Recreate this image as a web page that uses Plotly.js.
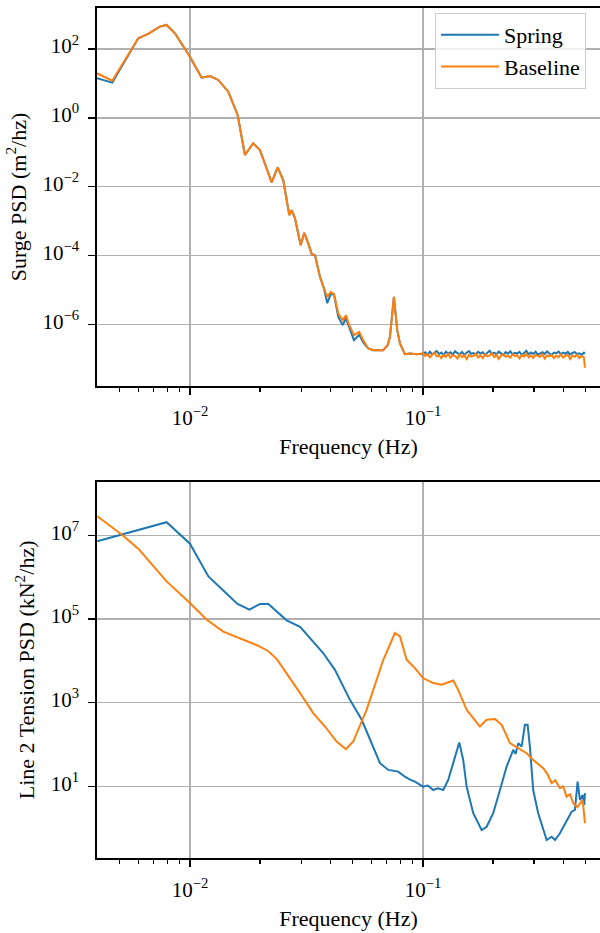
<!DOCTYPE html>
<html><head><meta charset="utf-8">
<script src="https://cdn.plot.ly/plotly-3.0.1.min.js"></script>
<style>html,body{margin:0;padding:0;background:#fff}#chart{width:600px;height:933px}</style>
</head><body><div id="chart"></div>
<script>
// ---- Surge PSD (top panel) ----
const surgeFreq = [0.00399,0.00464,0.0060,0.00662,0.00743,0.00794,0.00862,0.0100,0.01122,0.01219,
  0.01323,0.0146,0.01602,0.01722,0.01869,0.01997,0.02242,0.02379,0.02514,0.02669,
  0.02733,0.02823,0.02987,0.03095,0.0322,0.0333,0.0344,0.03614,0.0376,0.03885,
  0.04018,0.0415,0.04331,0.04523,0.04672,0.04827,0.05057,0.05329,0.05544,0.05824,
  0.06119,0.06755,0.07055,0.07217,0.07507,0.07757,0.07967,0.08369,0.08794,0.09397];
const surgeBaseline = [19.7,12.0,205,273,445,499,286,59.7,14.7,16.4,
  12.6,5.74,1.21,0.083,0.182,0.116,0.0133,0.0364,0.0156,0.00149,
  0.00209,0.0012,2.0e-4,4.57e-4,2.25e-4,1.10e-4,1.03e-4,2.41e-5,1.11e-5,6.3e-6,
  8.8e-6,7.56e-6,2.07e-6,1.32e-6,1.85e-6,9.5e-7,4.86e-7,6.06e-7,3.47e-7,1.99e-7,
  1.78e-7,1.78e-7,2.49e-7,4.33e-7,6.3e-6,6.78e-7,2.79e-7,1.36e-7,1.43e-7,1.36e-7];
const surgeSpring = [14.1,10.5,205,273,445,499,286,59.7,14.7,16.4,
  12.6,5.74,1.21,0.083,0.182,0.116,0.0133,0.0364,0.0156,0.00149,
  0.00209,0.0012,2.0e-4,4.57e-4,2.25e-4,1.10e-4,1.03e-4,2.41e-5,1.11e-5,4.13e-6,
  7.5e-6,7.56e-6,1.65e-6,9.5e-7,1.5e-6,8.0e-7,3.47e-7,5.0e-7,3.0e-7,1.99e-7,
  1.78e-7,1.78e-7,2.49e-7,4.33e-7,6.3e-6,6.78e-7,2.79e-7,1.36e-7,1.43e-7,1.36e-7];
// noise floor above 0.1 Hz
const floorFreq = [0.1000,0.1023,0.1047,0.1071,0.1095,0.1120,0.1146,0.1172,0.1199,0.1227,
  0.1255,0.1284,0.1313,0.1343,0.1374,0.1406,0.1438,0.1471,0.1505,0.1540,
  0.1575,0.1611,0.1648,0.1686,0.1725,0.1765,0.1805,0.1847,0.1889,0.1932,
  0.1977,0.2022,0.2069,0.2116,0.2165,0.2214,0.2265,0.2317,0.2371,0.2425,
  0.2481,0.2538,0.2596,0.2656,0.2717,0.2779,0.2843,0.2909,0.2975,0.3044,
  0.3114,0.3185,0.3259,0.3333,0.3410,0.3489,0.3569,0.3651,0.3735,0.3821,
  0.3909,0.3999,0.4091,0.4185,0.4281,0.4380,0.4480,0.4584,0.4689,0.4797,
  0.4907,0.4960];
const floorBaseline = [1.45e-7,1.20e-7,1.38e-7,1.10e-7,1.30e-7,1.52e-7,1.18e-7,1.25e-7,1.05e-7,1.32e-7,
  1.15e-7,1.40e-7,1.08e-7,1.28e-7,1.20e-7,1.02e-7,1.35e-7,1.12e-7,1.26e-7,0.98e-7,
  1.30e-7,1.15e-7,1.22e-7,1.40e-7,1.10e-7,1.27e-7,1.05e-7,1.33e-7,1.18e-7,1.24e-7,
  1.45e-7,1.12e-7,1.30e-7,1.00e-7,1.25e-7,1.38e-7,1.15e-7,1.22e-7,1.08e-7,1.35e-7,
  1.20e-7,1.28e-7,1.02e-7,1.30e-7,1.16e-7,1.40e-7,1.10e-7,1.25e-7,1.06e-7,1.32e-7,
  1.20e-7,1.14e-7,1.36e-7,1.02e-7,1.27e-7,1.18e-7,1.30e-7,1.05e-7,1.24e-7,1.12e-7,
  1.35e-7,1.08e-7,1.22e-7,1.30e-7,0.98e-7,1.25e-7,1.15e-7,1.32e-7,1.05e-7,1.20e-7,
  1.10e-7,0.55e-7];
const floorSpring = [1.40e-7,1.55e-7,1.30e-7,1.62e-7,1.35e-7,1.48e-7,1.70e-7,1.38e-7,1.52e-7,1.28e-7,
  1.60e-7,1.42e-7,1.55e-7,1.32e-7,1.66e-7,1.45e-7,1.36e-7,1.58e-7,1.30e-7,1.50e-7,
  1.68e-7,1.40e-7,1.46e-7,1.34e-7,1.60e-7,1.42e-7,1.55e-7,1.30e-7,1.48e-7,1.72e-7,
  1.38e-7,1.50e-7,1.35e-7,1.62e-7,1.44e-7,1.28e-7,1.56e-7,1.40e-7,1.65e-7,1.35e-7,
  1.50e-7,1.42e-7,1.58e-7,1.30e-7,1.48e-7,1.70e-7,1.36e-7,1.52e-7,1.40e-7,1.60e-7,
  1.32e-7,1.46e-7,1.55e-7,1.38e-7,1.64e-7,1.42e-7,1.30e-7,1.52e-7,1.45e-7,1.62e-7,
  1.36e-7,1.50e-7,1.40e-7,1.58e-7,1.33e-7,1.48e-7,1.56e-7,1.38e-7,1.45e-7,1.30e-7,
  1.50e-7,1.40e-7];

// ---- Line 2 tension PSD (bottom panel) ----
const tensionSpringFreq = [0.0040,0.00794,0.0100,0.0120,0.0139,0.0160,0.0180,0.0200,0.0217,0.0260,
  0.0297,0.0373,0.0419,0.0486,0.0546,0.0592,0.0654,0.0710,0.0783,0.0837,
  0.0880,0.0924,0.1000,0.1050,0.1107,0.1160,0.1222,0.1284,0.1372,0.1432,
  0.1489,0.1540,0.1644,0.1786,0.1877,0.2003,0.2141,0.2287,0.2441,0.2500,
  0.2565,0.2652,0.2740,0.2814,0.2878,0.2974,0.3124,0.3396,0.3568,0.3687,
  0.3873,0.4138,0.4346,0.4491,0.4612,0.4719,0.4848,0.4926,0.4960];
const tensionSpring = [7.2e6,2.05e7,6.3e6,1.04e6,4.8e5,2.28e5,1.67e5,2.29e5,2.29e5,9.3e4,
  6.5e4,1.54e4,6.1e3,1.17e3,390,129,35.9,24.8,22.6,17.1,
  14.5,13.0,9.9,10.5,8.2,9.0,8.2,14.3,51.6,112,
  43,9.9,2.29,0.91,1.09,2.29,8.2,29.8,74.6,60,
  108,89.5,296,296,89.5,8.2,2.29,0.525,0.63,0.525,
  0.76,1.58,2.49,2.74,13.0,4.75,6.26,3.6,6.9];
const tensionBaselineFreq = [0.0040,0.00509,0.0060,0.00794,0.0100,0.0118,0.0139,0.0178,0.0196,0.0217,
  0.0236,0.0297,0.0338,0.0380,0.0426,0.0467,0.0502,0.0573,0.0676,0.0758,
  0.0797,0.0851,0.0924,0.1000,0.1107,0.1203,0.1349,0.1417,0.1540,0.1644,
  0.1756,0.1877,0.2037,0.2177,0.2363,0.2565,0.2787,0.2974,0.3124,0.3284,
  0.3420,0.3568,0.3700,0.3873,0.4000,0.4138,0.4280,0.4416,0.4600,0.4719,
  0.4848,0.4960];
const tensionBaseline = [2.85e7,1.04e7,4.8e6,7.9e5,2.4e5,9.6e4,5.0e4,2.8e4,2.3e4,1.7e4,
  1.1e4,1.7e3,564,270,118,77.6,118,676,1.06e4,4.62e4,
  3.84e4,1.06e4,6.7e3,3.88e3,2.94e3,2.68e3,3.4e3,2.03e3,676,428,
  270,390,406,296,108,82,62.2,43,35,27.2,
  20,11.9,14,9.06,10,5.7,6.5,3.96,3.2,3.96,
  4.75,1.32];

// ---- tick labels ----
const xTickVals = [0.01, 0.1];
const xTickText = ['10<sup>−2</sup>', '10<sup>−1</sup>'];
const xMinorVals = [0.005,0.006,0.007,0.008,0.009,0.02,0.03,0.04,0.05,0.06,0.07,0.08,0.09,0.2,0.3,0.4,0.5];
const surgeTickVals = [1e-6, 1e-4, 1e-2, 1, 1e2];
const surgeTickText = ['10<sup>−6</sup>','10<sup>−4</sup>','10<sup>−2</sup>','10<sup>0</sup>','10<sup>2</sup>'];
const tensionTickVals = [1e1, 1e3, 1e5, 1e7];
const tensionTickText = ['10<sup>1</sup>','10<sup>3</sup>','10<sup>5</sup>','10<sup>7</sup>'];

const BLUE = '#1f77b4', ORANGE = '#ff7f0e';
const FAM = 'Liberation Serif, Times New Roman, serif';

const data = [
  {x: surgeFreq.concat(floorFreq), y: surgeSpring.concat(floorSpring), xaxis:'x', yaxis:'y',
   type:'scatter', mode:'lines', name:'Spring', legendgroup:'spring', line:{color:BLUE, width:2}},
  {x: surgeFreq.concat(floorFreq), y: surgeBaseline.concat(floorBaseline), xaxis:'x', yaxis:'y',
   type:'scatter', mode:'lines', name:'Baseline', legendgroup:'baseline', line:{color:ORANGE, width:2}},
  {x: tensionSpringFreq, y: tensionSpring, xaxis:'x2', yaxis:'y2', type:'scatter', mode:'lines',
   name:'Spring', legendgroup:'spring', showlegend:false, line:{color:BLUE, width:2}},
  {x: tensionBaselineFreq, y: tensionBaseline, xaxis:'x2', yaxis:'y2', type:'scatter', mode:'lines',
   name:'Baseline', legendgroup:'baseline', showlegend:false, line:{color:ORANGE, width:2}}
];

function xAxis(anchor) {
  return {type:'log', range:[-2.399, -0.24], domain:[0,1], anchor:anchor,
    showline:true, mirror:true, linecolor:'#000', linewidth:1.6,
    ticks:'outside', ticklen:7, tickwidth:1.4, tickcolor:'#000',
    tickmode:'array', tickvals:xTickVals, ticktext:xTickText, ticklabelstandoff:5,
    tickfont:{family:FAM, size:21, color:'#000'},
    showgrid:true, gridcolor:'#b0b0b0', gridwidth:1.5, zeroline:false,
    minor:{tickmode:'array', tickvals:xMinorVals, ticks:'outside', ticklen:4, tickwidth:1.2, tickcolor:'#000', showgrid:false},
    title:{text:'Frequency (Hz)', font:{family:FAM, size:22, color:'#000'}, standoff:10}};
}
function yAxis(anchor, range, domain, vals, text, title) {
  return {type:'log', range:range, domain:domain, anchor:anchor,
    showline:true, mirror:false, linecolor:'#000', linewidth:1.6,
    ticks:'outside', ticklen:7, tickwidth:1.4, tickcolor:'#000',
    tickmode:'array', tickvals:vals, ticktext:text, ticklabelstandoff:5, ticklabelshift:-3,
    tickfont:{family:FAM, size:21, color:'#000'},
    showgrid:true, gridcolor:'#b0b0b0', gridwidth:1.5, zeroline:false,
    title:{text:title, font:{family:FAM, size:22, color:'#000'}, standoff:10}};
}

const layout = {
  width:600, height:933, margin:{l:97, r:0, t:8, b:75},
  paper_bgcolor:'#fff', plot_bgcolor:'#fff',
  font:{family:FAM, size:21, color:'#000'},
  showlegend:true,
  legend:{x:0.672, y:0.9941, xanchor:'left', yanchor:'top',
    bgcolor:'rgba(255,255,255,0.8)', bordercolor:'#cccccc', borderwidth:1,
    font:{family:FAM, size:22, color:'#000'}, itemwidth:58, tracegroupgap:0, traceorder:'grouped'},
  xaxis: xAxis('y'),
  yaxis: yAxis('x', [-7.79, 3.19], [0.5553, 1], surgeTickVals, surgeTickText, 'Surge PSD (m<sup>2</sup>/hz)'),
  xaxis2: xAxis('y2'),
  yaxis2: yAxis('x2', [-0.71, 8.28], [0, 0.4427], tensionTickVals, tensionTickText, 'Line 2 Tension PSD (kN<sup>2</sup>/hz)')
};

Plotly.newPlot('chart', data, layout, {staticPlot:true, displayModeBar:false});
</script></body></html>
